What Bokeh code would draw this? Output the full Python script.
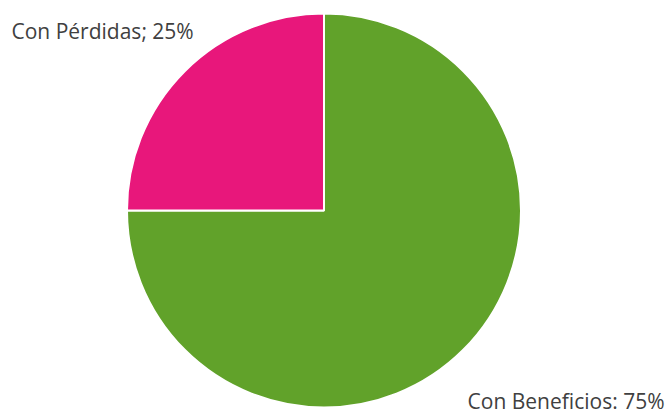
from bokeh.plotting import figure
from bokeh.models import Range1d, ColumnDataSource
from bokeh.core.properties import value
from bokeh.embed import file_html
from bokeh.resources import INLINE
import math

# Data
categories = ["Con Beneficios", "Con Pérdidas"]
percents = [75, 25]
colors = ["#61A22A", "#E8177B"]
label_texts = ["Con Beneficios: 75%", "Con Pérdidas; 25%"]

W, H = 667, 414
p = figure(width=W, height=H, output_backend="svg", toolbar_location=None,
           x_range=Range1d(0, W), y_range=Range1d(0, H), min_border=0)
p.axis.visible = False
p.grid.visible = False
p.outline_line_color = None
p.background_fill_color = "white"

cx, cy, r = 323.5, 204, 197

# clockwise from 12 o'clock
starts, ends = [], []
acc = 0.0
total = sum(percents)
for v in percents:
    a0 = math.pi / 2 - 2 * math.pi * acc / total
    acc += v
    a1 = math.pi / 2 - 2 * math.pi * acc / total
    starts.append(a0)
    ends.append(a1)

src = ColumnDataSource(dict(cat=categories, val=percents, start=starts, end=ends, color=colors))
p.wedge(x=cx, y=cy, radius=r, start_angle="start", end_angle="end", direction="clock",
        fill_color="color", line_color="white", line_width=2, source=src)

# labels
p.text(x=[664], y=[14], text=[label_texts[0]], text_align="right", text_baseline="alphabetic",
       text_font=value("Open Sans"), text_font_size="21px", text_color="#404040")
p.text(x=[11], y=[384], text=[label_texts[1]], text_align="left", text_baseline="alphabetic",
       text_font=value("Open Sans"), text_font_size="21px", text_color="#404040")

open("out.html", "w").write(file_html(p, INLINE))
